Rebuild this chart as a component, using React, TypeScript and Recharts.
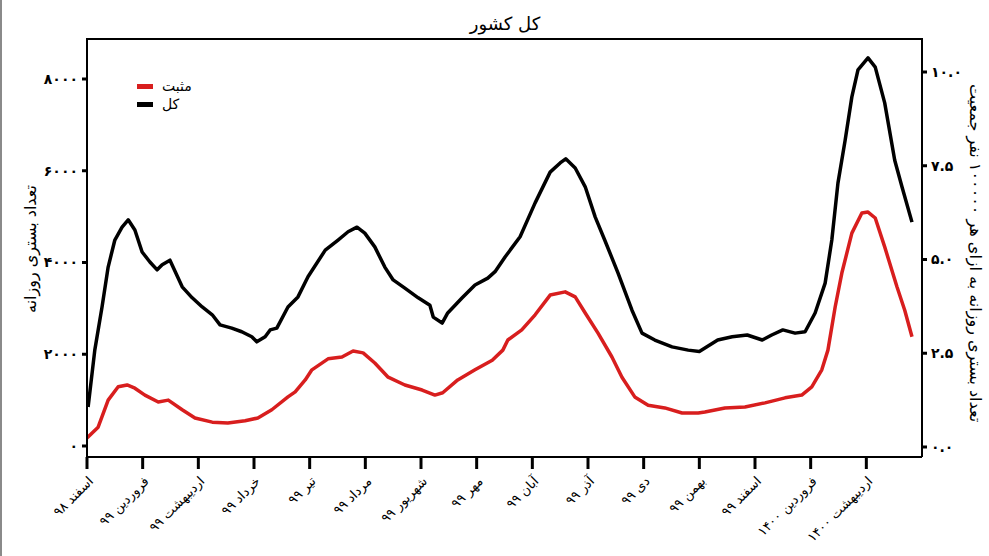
import React from "react";
import { LineChart, Line, XAxis, YAxis } from "recharts";

const monthLabels = [
  "اسفند ۹۸",
  "فروردین ۹۹",
  "اردیبهشت ۹۹",
  "خرداد ۹۹",
  "تیر ۹۹",
  "مرداد ۹۹",
  "شهریور ۹۹",
  "مهر ۹۹",
  "آبان ۹۹",
  "آذر ۹۹",
  "دی ۹۹",
  "بهمن ۹۹",
  "اسفند ۹۹",
  "فروردین ۱۴۰۰",
  "اردیبهشت ۱۴۰۰",
];
const monthTicks = [0, 1, 2, 3, 4, 5, 6, 7, 8, 9, 10, 11, 12, 13, 14];
const leftTicks = [0, 2000, 4000, 6000, 8000];
const rightTicks = [0, 2.5, 5, 7.5, 10];

// x is measured in months from the start of Esfand 98
const totalX = [
  0.02, 0.14, 0.27, 0.38, 0.5, 0.63, 0.74, 0.86, 0.99, 1.13, 1.26, 1.35, 1.49,
  1.71, 1.89, 2.07, 2.25, 2.39, 2.6, 2.78, 2.96, 3.05, 3.2, 3.29, 3.41, 3.61,
  3.79, 3.97, 4.28, 4.51, 4.69, 4.85, 4.99, 5.17, 5.35, 5.5, 5.71, 5.95, 6.16,
  6.22, 6.38, 6.48, 6.74, 6.97, 7.2, 7.33, 7.51, 7.78, 8.05, 8.32, 8.5, 8.6,
  8.77, 8.95, 9.13, 9.3, 9.54, 9.79, 9.97, 10.2, 10.51, 10.8, 11.0, 11.33,
  11.59, 11.86, 12.13, 12.3, 12.5, 12.72, 12.9, 13.08, 13.26, 13.38, 13.49,
  13.62, 13.74, 13.85, 14.03, 14.16, 14.33, 14.51, 14.64, 14.82,
];
const totalY = [
  850, 2090, 3030, 3900, 4490, 4770, 4930, 4710, 4230, 4010, 3840, 3950, 4050,
  3470, 3230, 3030, 2860, 2640, 2570, 2490, 2380, 2270, 2380, 2530, 2570, 3030,
  3250, 3690, 4270, 4490, 4670, 4770, 4640, 4340, 3900, 3620, 3440, 3230, 3070,
  2810, 2680, 2900, 3230, 3510, 3660, 3800, 4120, 4560, 5300, 5970, 6170, 6260,
  6060, 5650, 4990, 4490, 3770, 2960, 2460, 2310, 2160, 2090, 2060, 2310,
  2380, 2420, 2310, 2420, 2530, 2460, 2490, 2900, 3550, 4490, 5730,
  6670, 7610, 8200, 8460, 8260, 7480, 6230, 5650, 4880,
];

const positiveX = [
  0, 0.2, 0.38, 0.56, 0.72, 0.86, 1.04, 1.28, 1.46, 1.71, 1.94, 2.25, 2.53,
  2.84, 3.07, 3.32, 3.61, 3.74, 3.92, 4.04, 4.33, 4.58, 4.78, 4.96, 5.17, 5.41,
  5.71, 6.02, 6.25, 6.39, 6.66, 6.97, 7.28, 7.47, 7.56, 7.81, 8.05, 8.32, 8.59,
  8.77, 8.95, 9.18, 9.43, 9.61, 9.84, 10.08, 10.38, 10.69, 10.98, 11.1, 11.46,
  11.82, 12.18, 12.54, 12.84, 13.02, 13.2, 13.31, 13.44, 13.56, 13.74, 13.92,
  14.03, 14.16, 14.33, 14.55, 14.69, 14.82,
];
const positiveY = [
  175, 410, 1000, 1290, 1330, 1260, 1110, 960, 1000, 790, 610, 520, 500,
  550, 610, 790, 1070, 1180, 1440, 1660, 1900, 1940, 2070, 2030, 1810, 1500,
  1330, 1220, 1110, 1160, 1440, 1660, 1870, 2090, 2310, 2530, 2860, 3290, 3360,
  3250, 2900, 2460, 1940, 1500, 1070, 890, 830, 720, 720, 740, 830,
  850, 940, 1050, 1110, 1290, 1660, 2090, 3030, 3770, 4640, 5080,
  5100, 4970, 4340, 3470, 2960, 2380,
];

const totalData = totalX.map((x, i) => ({ x, v: totalY[i] }));
const positiveData = positiveX.map((x, i) => ({ x, v: positiveY[i] }));

const FONT = "'DejaVu Sans', sans-serif";

const toFa = (s: string) => s.replace(/\d/g, (d) => "۰۱۲۳۴۵۶۷۸۹"[Number(d)]);

function MonthTick({ x, y, payload }: any) {
  const ax = x + 7;
  const ay = y + 11;
  return (
    <text
      x={ax}
      y={ay}
      transform={`rotate(-45, ${ax}, ${ay})`}
      textAnchor="end"
      fontSize={13}
      fontFamily={FONT}
      fill="#000"
    >
      {monthLabels[payload.value]}
    </text>
  );
}

const tickStyle = { fontSize: 14, fontWeight: "bold", fill: "#000", fontFamily: FONT };

export default function App() {
  return (
    <div
      style={{
        position: "absolute",
        left: 0,
        top: 0,
        width: 989,
        height: 556,
        background: "#fff",
        fontFamily: FONT,
      }}
    >
      <div style={{ position: "absolute", left: 0, top: 0, width: 2, height: 556, background: "#8a8a8a" }} />
      <div
        style={{
          position: "absolute",
          left: 405,
          top: 13,
          width: 200,
          textAlign: "center",
          fontSize: 18,
          lineHeight: "22px",
          color: "#000",
        }}
      >
        کل کشور
      </div>
      <div
        style={{
          position: "absolute",
          left: 30,
          top: 249,
          transform: "translate(-50%, -50%) rotate(-90deg)",
          whiteSpace: "nowrap",
          fontSize: 16,
          color: "#000",
        }}
      >
        تعداد بستری روزانه
      </div>
      <div
        style={{
          position: "absolute",
          left: 975,
          top: 253,
          transform: "translate(-50%, -50%) rotate(90deg)",
          whiteSpace: "nowrap",
          fontSize: 16,
          color: "#000",
        }}
      >
        تعداد بستری روزانه به ازای هر ۱۰۰۰۰۰ نفر جمعیت
      </div>

      <LineChart width={989} height={556} margin={{ top: 39, right: 0, bottom: 0, left: 0 }}>
        <XAxis
          dataKey="x"
          type="number"
          domain={[0, 15]}
          ticks={monthTicks}
          interval={0}
          allowDataOverflow
          height={99}
          tickSize={12}
          axisLine={{ stroke: "#000", strokeWidth: 2 }}
          tickLine={{ stroke: "#000", strokeWidth: 3 }}
          tick={<MonthTick />}
        />
        <YAxis
          domain={[-240, 8872]}
          ticks={leftTicks}
          allowDataOverflow
          width={87}
          tickSize={5}
          tickMargin={4}
          axisLine={{ stroke: "#000", strokeWidth: 2 }}
          tickLine={{ stroke: "#000", strokeWidth: 3 }}
          tick={tickStyle}
          tickFormatter={(v: number) => toFa(String(v))}
        />
        <YAxis
          yAxisId="right"
          orientation="right"
          domain={[-0.267, 10.88]}
          ticks={rightTicks}
          allowDataOverflow
          width={67}
          tickSize={5}
          tickMargin={4}
          axisLine={{ stroke: "#000", strokeWidth: 2 }}
          tickLine={{ stroke: "#000", strokeWidth: 3 }}
          tick={tickStyle}
          tickFormatter={(v: number) => toFa(v.toFixed(1))}
        />
        <Line
          data={totalData}
          dataKey="v"
          type="linear"
          stroke="#000"
          strokeWidth={3.5}
          strokeLinejoin="round"
          dot={false}
          isAnimationActive={false}
        />
        <Line
          data={positiveData}
          dataKey="v"
          type="linear"
          stroke="#d81e1e"
          strokeWidth={3.5}
          strokeLinejoin="round"
          dot={false}
          isAnimationActive={false}
        />
      </LineChart>

      {/* top border of the plot box */}
      <div style={{ position: "absolute", left: 86, top: 38, width: 837, height: 2, background: "#000" }} />

      <div style={{ position: "absolute", left: 137, top: 84, width: 16, height: 5, background: "#d81e1e" }} />
      <div style={{ position: "absolute", left: 162, top: 77, fontSize: 14, lineHeight: "18px" }}>مثبت</div>
      <div style={{ position: "absolute", left: 137, top: 102, width: 16, height: 5, background: "#000" }} />
      <div style={{ position: "absolute", left: 162, top: 95, fontSize: 14, lineHeight: "18px" }}>کل</div>
    </div>
  );
}
